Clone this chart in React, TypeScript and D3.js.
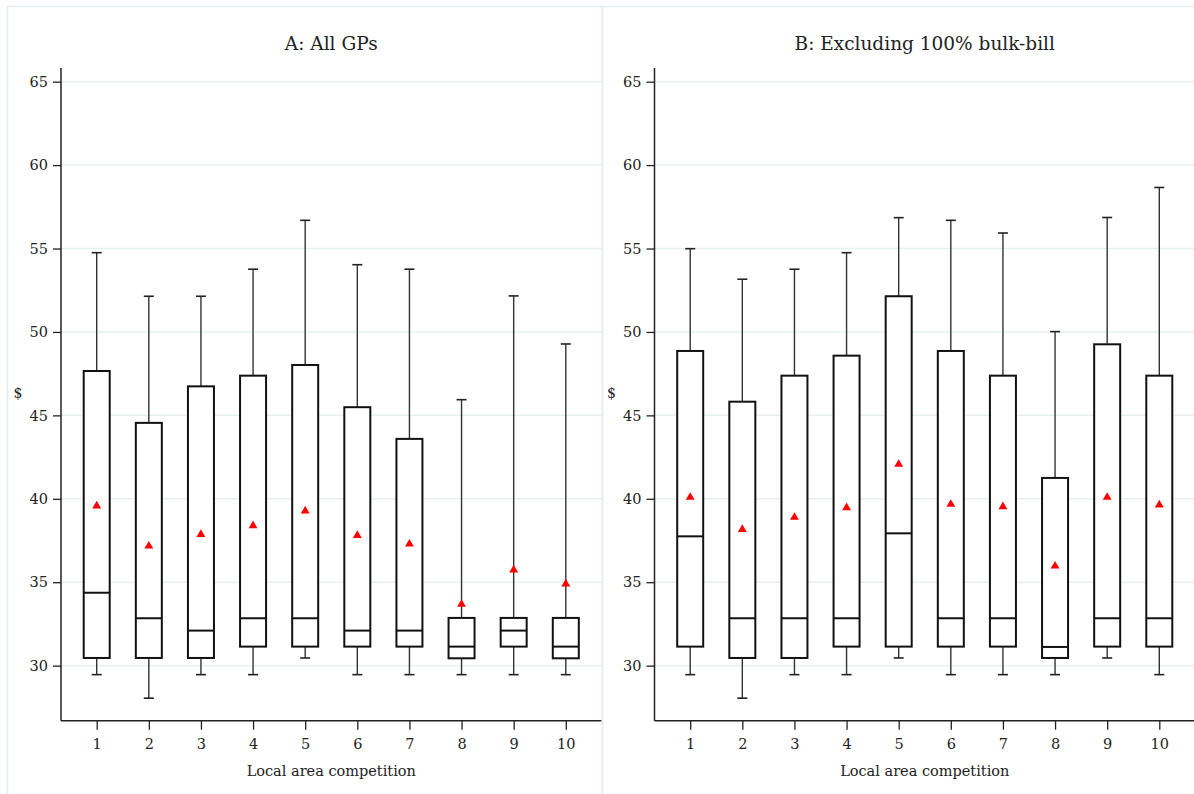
import React, { useEffect, useRef } from 'react';
import * as d3 from 'd3';

// categories on the x axis
const categories = [1, 2, 3, 4, 5, 6, 7, 8, 9, 10];
const yTicks = [30, 35, 40, 45, 50, 55, 60, 65];

// Panel A: All GPs
const lowA = [29.46, 28.05, 29.46, 29.46, 30.46, 29.46, 29.46, 29.46, 29.46, 29.46];
const q1A = [30.46, 30.46, 30.46, 31.14, 31.14, 31.14, 31.14, 30.44, 31.14, 30.44];
const medA = [34.37, 32.84, 32.1, 32.84, 32.84, 32.1, 32.1, 31.14, 32.1, 31.14];
const q3A = [47.66, 44.55, 46.74, 47.38, 48.02, 45.49, 43.59, 32.86, 32.86, 32.86];
const highA = [54.75, 52.14, 52.14, 53.76, 56.69, 54.03, 53.76, 45.94, 52.16, 49.28];
const meanA = [39.57, 37.17, 37.87, 38.39, 39.27, 37.81, 37.29, 33.68, 35.74, 34.9];

// Panel B: Excluding 100% bulk-bill
const lowB = [29.46, 28.05, 29.46, 29.46, 30.46, 29.46, 29.46, 29.46, 30.46, 29.46];
const q1B = [31.14, 30.46, 30.46, 31.14, 31.14, 31.14, 31.14, 30.46, 31.14, 31.14];
const medB = [37.75, 32.84, 32.84, 32.84, 37.93, 32.84, 32.84, 31.12, 32.84, 32.84];
const q3B = [48.86, 45.82, 47.38, 48.58, 52.14, 48.86, 47.38, 41.25, 49.26, 47.38];
const highB = [54.99, 53.16, 53.76, 54.75, 56.85, 56.69, 55.93, 50.02, 56.86, 58.66];
const meanB = [40.09, 38.17, 38.89, 39.47, 42.07, 39.67, 39.53, 35.97, 40.09, 39.63];

const width = 1194;
const height = 794;
const FONT = "'DejaVu Serif', serif";

const App = () => {
  const svgRef = useRef(null);

  useEffect(() => {
    const svg = d3.select(svgRef.current);
    svg.selectAll('*').remove();

    const panels = [
      { title: 'A: All GPs', left: 7, axisX: 61, low: lowA, q1: q1A, med: medA, q3: q3A, high: highA, mean: meanA },
      { title: 'B: Excluding 100% bulk-bill', left: 602, axisX: 654.5, low: lowB, q1: q1B, med: medB, q3: q3B, high: highB, mean: meanB },
    ];

    const plotW = 540.5;
    const top = 68;
    const bottom = 720.7;

    const y = d3.scaleLinear().domain([26.7, 65.82]).range([bottom, top]);

    panels.forEach((p) => {
      const g = svg.append('g');

      // faint panel frame
      g.append('rect')
        .attr('x', p.left + 0.5)
        .attr('y', 6.5)
        .attr('width', (p.left === 7 ? 602 : 1194) - p.left)
        .attr('height', height)
        .attr('fill', 'none')
        .attr('stroke', '#e4edf0')
        .attr('stroke-width', 1.5);

      const x = d3.scalePoint()
        .domain(categories.map(String))
        .range([p.axisX, p.axisX + plotW])
        .padding(0.685);

      // gridlines
      g.selectAll('.grid')
        .data(yTicks)
        .enter().append('line')
        .attr('x1', p.axisX)
        .attr('x2', p.axisX + plotW)
        .attr('y1', (d) => y(d))
        .attr('y2', (d) => y(d))
        .attr('stroke', '#e6eff1')
        .attr('stroke-width', 1.5);

      // y axis
      const yAxis = g.append('g')
        .attr('transform', `translate(${p.axisX},0)`)
        .call(d3.axisLeft(y).tickValues(yTicks).tickSize(8).tickPadding(5));
      yAxis.select('.domain').remove();
      yAxis.append('line')
        .attr('y1', top).attr('y2', bottom)
        .attr('stroke', '#222').attr('stroke-width', 1.5);

      // x axis
      const xAxis = g.append('g')
        .attr('transform', `translate(0,${bottom})`)
        .call(d3.axisBottom(x).tickSize(9).tickPadding(9));
      xAxis.select('.domain').remove();
      xAxis.append('line')
        .attr('x1', p.axisX).attr('x2', p.axisX + plotW)
        .attr('stroke', '#222').attr('stroke-width', 1.5);

      [yAxis, xAxis].forEach((a) => {
        a.selectAll('.tick line').attr('stroke', '#222').attr('stroke-width', 1.3);
        a.selectAll('.tick text')
          .attr('fill', '#222')
          .attr('font-family', FONT)
          .attr('font-size', 14.5);
      });

      // title
      g.append('text')
        .attr('x', p.axisX + plotW / 2)
        .attr('y', 50)
        .attr('text-anchor', 'middle')
        .attr('font-family', FONT)
        .attr('font-size', 18.5)
        .attr('fill', '#222')
        .text(p.title);

      // axis titles
      g.append('text')
        .attr('x', p.axisX + plotW / 2)
        .attr('y', 776)
        .attr('text-anchor', 'middle')
        .attr('font-family', FONT)
        .attr('font-size', 14.5)
        .attr('fill', '#222')
        .text('Local area competition');

      g.append('text')
        .attr('x', p.axisX - 43)
        .attr('y', 398)
        .attr('text-anchor', 'middle')
        .attr('font-family', FONT)
        .attr('font-size', 14)
        .attr('fill', '#222')
        .text('$');

      const boxW = 26;
      const capW = 10;

      const boxes = g.selectAll('.box')
        .data(categories)
        .enter().append('g')
        .attr('transform', (d) => `translate(${x(String(d))},0)`);

      // whiskers
      boxes.append('line')
        .attr('x1', 0).attr('x2', 0)
        .attr('y1', (d, i) => y(p.q3[i]))
        .attr('y2', (d, i) => y(p.high[i]))
        .attr('stroke', '#333').attr('stroke-width', 1.4);
      boxes.append('line')
        .attr('x1', 0).attr('x2', 0)
        .attr('y1', (d, i) => y(p.q1[i]))
        .attr('y2', (d, i) => y(p.low[i]))
        .attr('stroke', '#333').attr('stroke-width', 1.4);
      boxes.append('line')
        .attr('x1', -capW / 2).attr('x2', capW / 2)
        .attr('y1', (d, i) => y(p.high[i]))
        .attr('y2', (d, i) => y(p.high[i]))
        .attr('stroke', '#222').attr('stroke-width', 1.6);
      boxes.append('line')
        .attr('x1', -capW / 2).attr('x2', capW / 2)
        .attr('y1', (d, i) => y(p.low[i]))
        .attr('y2', (d, i) => y(p.low[i]))
        .attr('stroke', '#222').attr('stroke-width', 1.6);

      // boxes
      boxes.append('rect')
        .attr('x', -boxW / 2)
        .attr('width', boxW)
        .attr('y', (d, i) => y(p.q3[i]))
        .attr('height', (d, i) => y(p.q1[i]) - y(p.q3[i]))
        .attr('fill', 'white')
        .attr('stroke', '#111')
        .attr('stroke-width', 2);

      // medians
      boxes.append('line')
        .attr('x1', -boxW / 2).attr('x2', boxW / 2)
        .attr('y1', (d, i) => y(p.med[i]))
        .attr('y2', (d, i) => y(p.med[i]))
        .attr('stroke', '#111').attr('stroke-width', 2);

      // means
      boxes.append('path')
        .attr('d', d3.symbol().type(d3.symbolTriangle).size(34)())
        .attr('transform', (d, i) => `translate(0,${y(p.mean[i])})`)
        .attr('fill', '#ff0000');
    });
  }, []);

  return (
    <svg
      ref={svgRef}
      width={width}
      height={height}
      style={{ position: 'absolute', left: 0, top: 0, background: 'white' }}
    ></svg>
  );
};

export default App;
